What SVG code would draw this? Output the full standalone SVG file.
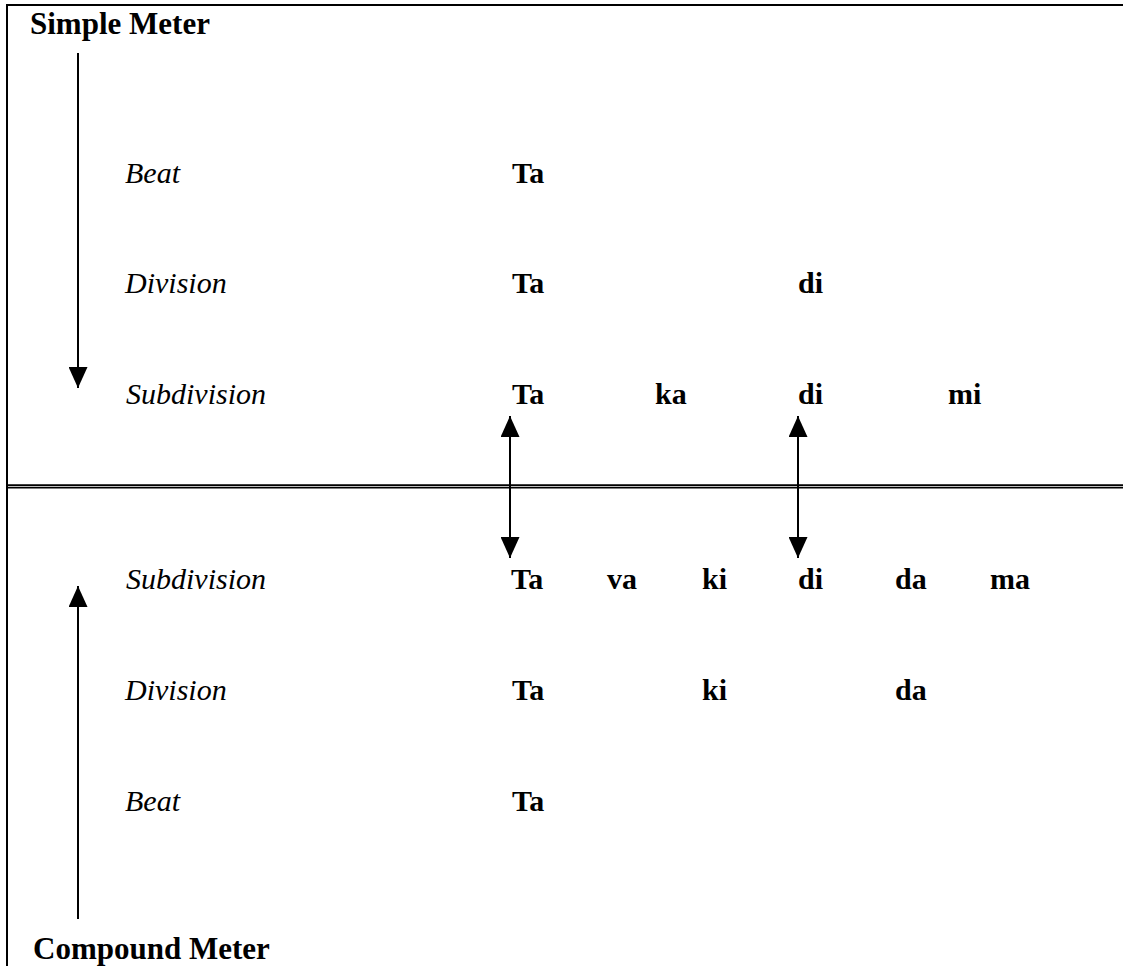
<svg xmlns="http://www.w3.org/2000/svg" width="1123" height="966" viewBox="0 0 1123 966">
  <style>
    .title { font-family: "Liberation Serif", "Times New Roman", serif; font-weight: bold; font-size: 31px; fill: #000; }
    .lvl { font-family: "Liberation Serif", "Times New Roman", serif; font-style: italic; font-size: 30px; fill: #000; }
    .syl { font-family: "Liberation Serif", "Times New Roman", serif; font-weight: bold; font-size: 30px; fill: #000; }
    .frame { stroke: #000; stroke-width: 2; fill: none; }
    .rule { stroke: #000; stroke-width: 1.7; fill: none; }
    .conn { stroke: #000; stroke-width: 2; fill: none; }
  </style>
  <defs>
    <marker id="head" viewBox="0 0 21 19" refX="21" refY="9.5" markerWidth="21" markerHeight="19" markerUnits="userSpaceOnUse" orient="auto">
      <path d="M0,0 L21,9.5 L0,19 Z" fill="#000"/>
    </marker>
  </defs>
  <rect width="1123" height="966" fill="#fff"/>

  <!-- box frames -->
  <g id="frame">
    <line class="frame" x1="6" y1="5" x2="1123" y2="5"/>
    <line class="frame" x1="7" y1="4" x2="7" y2="966"/>
    <line class="rule" x1="7" y1="485.2" x2="1123" y2="485.2"/>
    <line class="rule" x1="7" y1="487.6" x2="1123" y2="487.6"/>
  </g>

  <!-- connectors -->
  <g id="connectors">
    <line class="conn" x1="78" y1="53" x2="78" y2="388" marker-end="url(#head)"/>
    <line class="conn" x1="78" y1="919" x2="78" y2="586" marker-end="url(#head)"/>
    <line class="conn" x1="510" y1="487" x2="510" y2="416" marker-end="url(#head)"/>
    <line class="conn" x1="510" y1="487" x2="510" y2="558" marker-end="url(#head)"/>
    <line class="conn" x1="798" y1="487" x2="798" y2="416" marker-end="url(#head)"/>
    <line class="conn" x1="798" y1="487" x2="798" y2="558" marker-end="url(#head)"/>
  </g>

  <g id="simple-meter">
    <text class="title" x="30" y="34">Simple Meter</text>
  </g>

  <g id="simple-beat">
    <text class="lvl" x="125" y="183">Beat</text>
    <text class="syl" x="512" y="183">Ta</text>
  </g>
  <g id="simple-division">
    <text class="lvl" x="125" y="293">Division</text>
    <text class="syl" x="512" y="293">Ta</text>
    <text class="syl" x="798" y="293">di</text>
  </g>
  <g id="simple-subdivision">
    <text class="lvl" x="126" y="404">Subdivision</text>
    <text class="syl" x="512" y="404">Ta</text>
    <text class="syl" x="655" y="404">ka</text>
    <text class="syl" x="798" y="404">di</text>
    <text class="syl" x="948" y="404">mi</text>
  </g>

  <g id="compound-subdivision">
    <text class="lvl" x="126" y="589">Subdivision</text>
    <text class="syl" x="511" y="589">Ta</text>
    <text class="syl" x="607" y="589">va</text>
    <text class="syl" x="702" y="589">ki</text>
    <text class="syl" x="798" y="589">di</text>
    <text class="syl" x="895" y="589">da</text>
    <text class="syl" x="990" y="589">ma</text>
  </g>
  <g id="compound-division">
    <text class="lvl" x="125" y="700">Division</text>
    <text class="syl" x="512" y="700">Ta</text>
    <text class="syl" x="702" y="700">ki</text>
    <text class="syl" x="895" y="700">da</text>
  </g>
  <g id="compound-beat">
    <text class="lvl" x="125" y="811">Beat</text>
    <text class="syl" x="512" y="811">Ta</text>
  </g>

  <g id="compound-meter">
    <text class="title" x="33" y="959">Compound Meter</text>
  </g>
</svg>
